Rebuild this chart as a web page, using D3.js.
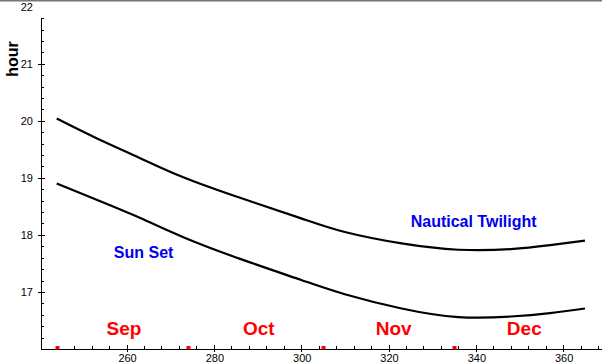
<!DOCTYPE html>
<meta charset="utf-8">
<script src="https://d3js.org/d3.v7.min.js"></script>
<style>
body { margin: 0; background: #fff; }
svg { display: block; font-family: "Liberation Sans", Arial, sans-serif; }
</style>
<body>
<svg width="602" height="363"></svg>
<script>
  // day of year vs. hour of day
  var days      = [244, 253, 263, 273, 286, 300, 310, 323, 336, 348, 357, 365];
  var twilight  = [20.04, 19.70, 19.35, 19.01, 18.65, 18.29, 18.05, 17.85, 17.74, 17.75, 17.82, 17.90];
  var sunset    = [18.90, 18.62, 18.30, 17.96, 17.58, 17.21, 16.96, 16.71, 16.56, 16.57, 16.63, 16.71];

  var monthStarts = [244, 274, 305, 335];
  var monthNames  = ['Sep', 'Oct', 'Nov', 'Dec'];
  var monthMid    = [259.4, 290.3, 321.2, 351.1];

  var xMajor = [260, 280, 300, 320, 340, 360];
  var yMajor = [17, 18, 19, 20, 21, 22];

  var svg = d3.select('svg');

  var x = d3.scaleLinear().domain([240.4, 368.9]).range([41, 602]);
  var y = d3.scaleLinear().domain([16, 22]).range([349, 6.7]);

  // grey frame line at the top
  svg.append('rect').attr('x', 0).attr('y', 0).attr('width', 602).attr('height', 1.5).attr('fill', '#777');

  /* ----------- axes ----------- */

  var axes = svg.append('g').attr('stroke', '#000').attr('stroke-width', 1).attr('shape-rendering', 'crispEdges');

  axes.append('line')
    .attr('x1', x.range()[0]).attr('x2', x.range()[1])
    .attr('y1', y(16) + 0.5).attr('y2', y(16) + 0.5);
  axes.append('line')
    .attr('x1', x.range()[0] + 0.5).attr('x2', x.range()[0] + 0.5)
    .attr('y1', y(16)).attr('y2', Math.round(y(21.8)));

  // y ticks
  var yMinor = d3.range(16.2, 21.81, 0.2);
  axes.selectAll('line.ymin').data(yMinor).enter().append('line')
    .attr('class', 'ymin')
    .attr('x1', 41).attr('x2', function(d){ return yMajor.some(function(m){ return Math.abs(m - d) < 0.01; }) ? 45 : 44; })
    .attr('y1', function(d){ return Math.round(y(d)) + 0.5; })
    .attr('y2', function(d){ return Math.round(y(d)) + 0.5; });
  axes.selectAll('line.ymaj').data(yMajor.filter(function(d){ return d < 21.9; })).enter().append('line')
    .attr('class', 'ymaj')
    .attr('x1', 38).attr('x2', 41)
    .attr('y1', function(d){ return Math.round(y(d)) + 0.5; })
    .attr('y2', function(d){ return Math.round(y(d)) + 0.5; });

  svg.selectAll('text.ylab').data(yMajor).enter().append('text')
    .attr('class', 'ylab')
    .attr('x', 33).attr('y', function(d){ return y(d) + 4; })
    .attr('text-anchor', 'end')
    .attr('font-size', 11)
    .text(function(d){ return d; });

  // x ticks
  var xMinor = d3.range(244, 369, 4);
  axes.selectAll('line.xmin').data(xMinor).enter().append('line')
    .attr('class', 'xmin')
    .attr('x1', function(d){ return Math.round(x(d)) + 0.5; })
    .attr('x2', function(d){ return Math.round(x(d)) + 0.5; })
    .attr('y1', 349).attr('y2', function(d){ return xMajor.indexOf(d) >= 0 ? 352 : 346; });
  axes.selectAll('line.xmaj').data(xMajor).enter().append('line')
    .attr('class', 'xmaj')
    .attr('x1', function(d){ return Math.round(x(d)) + 0.5; })
    .attr('x2', function(d){ return Math.round(x(d)) + 0.5; })
    .attr('y1', 345).attr('y2', 349);

  svg.selectAll('text.xlab').data(xMajor).enter().append('text')
    .attr('class', 'xlab')
    .attr('x', function(d){ return x(d) + 1; }).attr('y', 362)
    .attr('text-anchor', 'middle')
    .attr('font-size', 11)
    .text(function(d){ return d; });

  // red month markers
  svg.selectAll('rect.mstart').data(monthStarts).enter().append('rect')
    .attr('class', 'mstart')
    .attr('x', function(d){ return Math.round(x(d)) - 1.5; })
    .attr('y', 346).attr('width', 4).attr('height', 3.5)
    .attr('fill', '#ff0000');

  svg.selectAll('text.month').data(monthNames).enter().append('text')
    .attr('class', 'month')
    .attr('x', function(d, i){ return x(monthMid[i]); })
    .attr('y', 335)
    .attr('text-anchor', 'middle')
    .attr('font-size', 19).attr('font-weight', 'bold')
    .attr('fill', '#ff0000')
    .text(function(d){ return d; });

  svg.append('text')
    .attr('transform', 'translate(18,59) rotate(-90)')
    .attr('text-anchor', 'middle')
    .attr('font-size', 16).attr('font-weight', 'bold')
    .text('hour');

  /* ----------- curves ----------- */

  var line = d3.line()
    .x(function(d){ return x(d[0]); })
    .y(function(d){ return y(d[1]); })
    .curve(d3.curveNatural);

  [twilight, sunset].forEach(function(s){
    svg.append('path')
      .datum(days.map(function(d, i){ return [d, s[i]]; }))
      .attr('fill', 'none')
      .attr('stroke', '#000')
      .attr('stroke-width', 2.2)
      .attr('d', line);
  });

  svg.append('text')
    .attr('x', x(263.9)).attr('y', y(17.6))
    .attr('text-anchor', 'middle')
    .attr('font-size', 16).attr('font-weight', 'bold')
    .attr('fill', '#0000ee')
    .text('Sun Set');

  svg.append('text')
    .attr('x', x(339.5)).attr('y', y(18.13))
    .attr('text-anchor', 'middle')
    .attr('font-size', 16).attr('font-weight', 'bold')
    .attr('fill', '#0000ee')
    .text('Nautical Twilight');
</script>
</body>
